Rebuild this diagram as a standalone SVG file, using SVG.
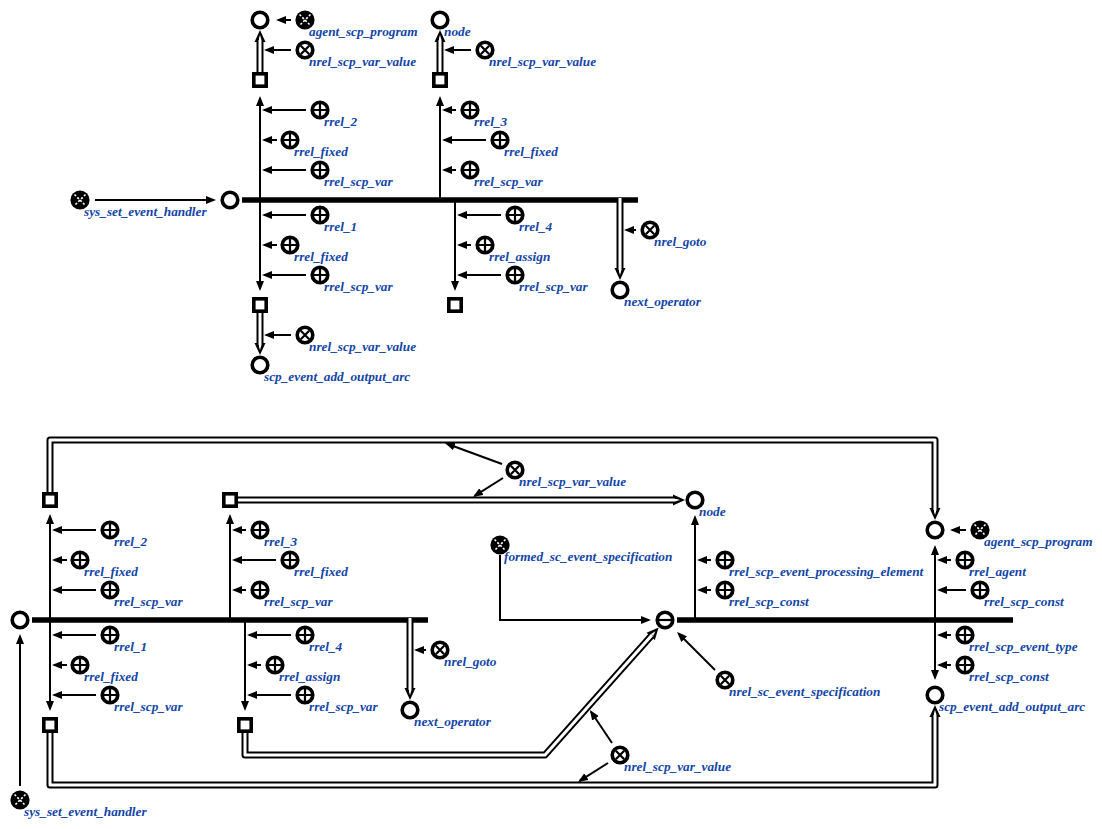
<svg xmlns="http://www.w3.org/2000/svg" xmlns:xlink="http://www.w3.org/1999/xlink" width="1102" height="829" viewBox="0 0 1102 829">
  <style>
    .lbl { font-family: "Liberation Serif", "Times New Roman", serif; font-size: 13.3px; font-weight: bold; font-style: italic; fill: #1346a8; }
    .arc { fill: none; stroke: #000; stroke-width: 2; marker-end: url(#ah); }
    .bus { fill: none; stroke: #000; stroke-width: 5.5; }
    .pair-out { fill: none; stroke: #000; stroke-width: 7; stroke-linejoin: round; marker-end: url(#dh); }
    .pair-in { fill: none; stroke: #fff; stroke-width: 3; stroke-linejoin: round; marker-end: url(#wh); }
    .ring { fill: #fff; stroke: #000; stroke-width: 3.6; }
    .mark { stroke: #000; stroke-width: 2.2; }
  </style>
  <defs>
    <marker id="ah" viewBox="0 -4 10 8" refX="8" refY="0" markerWidth="10" markerHeight="8" markerUnits="userSpaceOnUse" orient="auto">
      <path d="M0,-4 L10,0 L0,4 z" fill="#000"/>
    </marker>
    <marker id="dh" viewBox="0 -6 12 12" refX="2" refY="0" markerWidth="12" markerHeight="12" markerUnits="userSpaceOnUse" orient="auto">
      <path d="M0,-5.5 L12,0 L0,5.5 z" fill="#000"/>
    </marker>
    <marker id="wh" viewBox="0 -1.5 5 3" refX="0" refY="0" markerWidth="5" markerHeight="3" markerUnits="userSpaceOnUse" orient="auto">
      <path d="M0,-1.5 L5,0 L0,1.5 z" fill="#fff"/>
    </marker>
    <!-- plain constant node -->
    <g id="t-node"><circle r="7.8" class="ring"/></g>
    <!-- tuple / structure square -->
    <g id="t-tuple"><rect x="-6.2" y="-6.2" width="12.4" height="12.4" class="ring"/></g>
    <!-- non-role relation -->
    <g id="t-nrel"><circle r="7.8" class="ring"/><path d="M-4.2,-4.2 L4.2,4.2 M4.2,-4.2 L-4.2,4.2" class="mark"/></g>
    <!-- role relation -->
    <g id="t-rrel"><circle r="7.8" class="ring"/><path d="M-6.5,0 H6.5 M0,-6.5 V6.5" class="mark"/></g>
    <!-- class node -->
    <g id="t-class"><circle r="9.6" fill="#000"/><path d="M-5.5,-5.5 L5.5,5.5 M5.5,-5.5 L-5.5,5.5" stroke="#fff" stroke-width="1.6" stroke-dasharray="2.2 1.8"/></g>
    <!-- event specification node -->
    <g id="t-spec"><circle r="7.8" class="ring"/><path d="M-6.5,0 H6.5" class="mark"/></g>
  </defs>

  <!-- connectors -->
  <g id="connectors">
    <!-- upper program: buses -->
    <path class="bus" d="M242,200 H638"/>
    <!-- upper program: common arcs -->
    <path class="pair-out" d="M260,73 V40"/><path class="pair-in" d="M260,73 V40"/>
    <path class="pair-out" d="M440,73 V40"/><path class="pair-in" d="M440,73 V40"/>
    <path class="pair-out" d="M260,313 V345"/><path class="pair-in" d="M260,313 V345"/>
    <path class="pair-out" d="M620,198 V270"/><path class="pair-in" d="M620,198 V270"/>
    <!-- upper program: access arcs -->
    <path class="arc" d="M95,200 H214"/>
    <path class="arc" d="M260,200 V98"/>
    <path class="arc" d="M440,200 V98"/>
    <path class="arc" d="M260,200 V289"/>
    <path class="arc" d="M455,200 V289"/>
    <path class="arc" d="M291,20 H278"/>
    <path class="arc" d="M291,50 H266"/>
    <path class="arc" d="M471,50 H446"/>
    <path class="arc" d="M291,335 H266"/>
    <path class="arc" d="M306,110 H264"/>
    <path class="arc" d="M277,140 H264"/>
    <path class="arc" d="M306,170 H264"/>
    <path class="arc" d="M456,110 H444"/>
    <path class="arc" d="M486,140 H444"/>
    <path class="arc" d="M456,170 H444"/>
    <path class="arc" d="M306,215 H264"/>
    <path class="arc" d="M277,245 H264"/>
    <path class="arc" d="M306,275 H264"/>
    <path class="arc" d="M501,215 H459"/>
    <path class="arc" d="M471,245 H459"/>
    <path class="arc" d="M501,275 H459"/>
    <path class="arc" d="M636,230 H626"/>

    <!-- lower program: buses -->
    <path class="bus" d="M32,620 H428"/>
    <path class="bus" d="M677,620 H1013"/>
    <!-- lower program: common arcs -->
    <path class="pair-out" d="M50,492 V440 H935 V510"/><path class="pair-in" d="M50,492 V440 H935 V510"/>
    <path class="pair-out" d="M238,500 H675"/><path class="pair-in" d="M238,500 H675"/>
    <path class="pair-out" d="M50,733 V785 H935 V715"/><path class="pair-in" d="M50,733 V785 H935 V715"/>
    <path class="pair-out" d="M245,733 V755 H545 L652,635"/><path class="pair-in" d="M245,733 V755 H545 L652,635"/>
    <path class="pair-out" d="M410,618 V690"/><path class="pair-in" d="M410,618 V690"/>
    <!-- lower program: access arcs -->
    <path class="arc" d="M20,786 V636"/>
    <path class="arc" d="M50,620 V516"/>
    <path class="arc" d="M230,620 V516"/>
    <path class="arc" d="M50,620 V709"/>
    <path class="arc" d="M245,620 V709"/>
    <path class="arc" d="M96,530 H54"/>
    <path class="arc" d="M67,560 H54"/>
    <path class="arc" d="M96,590 H54"/>
    <path class="arc" d="M246,530 H234"/>
    <path class="arc" d="M276,560 H234"/>
    <path class="arc" d="M246,590 H234"/>
    <path class="arc" d="M96,635 H54"/>
    <path class="arc" d="M67,665 H54"/>
    <path class="arc" d="M96,695 H54"/>
    <path class="arc" d="M291,635 H249"/>
    <path class="arc" d="M261,665 H249"/>
    <path class="arc" d="M291,695 H249"/>
    <path class="arc" d="M426,650 H416"/>
    <path class="arc" d="M500,555 V620 H649"/>
    <path class="arc" d="M695,620 V517"/>
    <path class="arc" d="M711,560 H699"/>
    <path class="arc" d="M711,590 H699"/>
    <path class="arc" d="M935,620 V547"/>
    <path class="arc" d="M951,560 H939"/>
    <path class="arc" d="M966,590 H939"/>
    <path class="arc" d="M966,530 H952"/>
    <path class="arc" d="M935,620 V678"/>
    <path class="arc" d="M951,635 H939"/>
    <path class="arc" d="M951,665 H939"/>
    <path class="arc" d="M715,670 L678.5,633.5"/>
    <path class="arc" d="M612,743 L591,711.7"/>
    <path class="arc" d="M608,763 L579.7,780.9"/>
    <path class="arc" d="M502,464 L446.9,443.7"/>
    <path class="arc" d="M503,478 L474.7,495.9"/>
  </g>

  <!-- upper program nodes -->
  <g id="u-agent-class"><use xlink:href="#t-class" x="305" y="20"/><text class="lbl" x="309" y="36">agent_scp_program</text></g>
  <g id="u-agent-inst"><use xlink:href="#t-node" x="260" y="20"/></g>
  <g id="u-value-1"><use xlink:href="#t-nrel" x="305" y="50"/><text class="lbl" x="309" y="66">nrel_scp_var_value</text></g>
  <g id="u-param-1"><use xlink:href="#t-tuple" x="260" y="80"/></g>
  <g id="u-node"><use xlink:href="#t-node" x="440" y="20"/><text class="lbl" x="444" y="36">node</text></g>
  <g id="u-value-2"><use xlink:href="#t-nrel" x="485" y="50"/><text class="lbl" x="489" y="66">nrel_scp_var_value</text></g>
  <g id="u-param-3"><use xlink:href="#t-tuple" x="440" y="80"/></g>
  <g id="u-rrel2"><use xlink:href="#t-rrel" x="320" y="110"/><text class="lbl" x="324" y="126">rrel_2</text></g>
  <g id="u-fixed-1"><use xlink:href="#t-rrel" x="290" y="140"/><text class="lbl" x="294" y="156">rrel_fixed</text></g>
  <g id="u-var-1"><use xlink:href="#t-rrel" x="320" y="170"/><text class="lbl" x="324" y="186">rrel_scp_var</text></g>
  <g id="u-rrel3"><use xlink:href="#t-rrel" x="470" y="110"/><text class="lbl" x="474" y="126">rrel_3</text></g>
  <g id="u-fixed-2"><use xlink:href="#t-rrel" x="500" y="140"/><text class="lbl" x="504" y="156">rrel_fixed</text></g>
  <g id="u-var-2"><use xlink:href="#t-rrel" x="470" y="170"/><text class="lbl" x="474" y="186">rrel_scp_var</text></g>
  <g id="u-handler"><use xlink:href="#t-class" x="80" y="200"/><text class="lbl" x="84" y="216">sys_set_event_handler</text></g>
  <g id="u-operator"><use xlink:href="#t-node" x="230" y="200"/></g>
  <g id="u-rrel1"><use xlink:href="#t-rrel" x="320" y="215"/><text class="lbl" x="324" y="231">rrel_1</text></g>
  <g id="u-fixed-3"><use xlink:href="#t-rrel" x="290" y="245"/><text class="lbl" x="294" y="261">rrel_fixed</text></g>
  <g id="u-var-3"><use xlink:href="#t-rrel" x="320" y="275"/><text class="lbl" x="324" y="291">rrel_scp_var</text></g>
  <g id="u-rrel4"><use xlink:href="#t-rrel" x="515" y="215"/><text class="lbl" x="519" y="231">rrel_4</text></g>
  <g id="u-assign"><use xlink:href="#t-rrel" x="485" y="245"/><text class="lbl" x="489" y="261">rrel_assign</text></g>
  <g id="u-var-4"><use xlink:href="#t-rrel" x="515" y="275"/><text class="lbl" x="519" y="291">rrel_scp_var</text></g>
  <g id="u-goto"><use xlink:href="#t-nrel" x="650" y="230"/><text class="lbl" x="654" y="246">nrel_goto</text></g>
  <g id="u-next"><use xlink:href="#t-node" x="620" y="290"/><text class="lbl" x="624" y="306">next_operator</text></g>
  <g id="u-param-2"><use xlink:href="#t-tuple" x="260" y="305"/></g>
  <g id="u-param-4"><use xlink:href="#t-tuple" x="455" y="305"/></g>
  <g id="u-value-3"><use xlink:href="#t-nrel" x="305" y="335"/><text class="lbl" x="309" y="351">nrel_scp_var_value</text></g>
  <g id="u-event-type"><use xlink:href="#t-node" x="260" y="365"/><text class="lbl" x="264" y="381">scp_event_add_output_arc</text></g>

  <!-- lower program nodes -->
  <g id="l-value-1"><use xlink:href="#t-nrel" x="515" y="470"/><text class="lbl" x="519" y="486">nrel_scp_var_value</text></g>
  <g id="l-param-1"><use xlink:href="#t-tuple" x="50" y="500"/></g>
  <g id="l-param-3"><use xlink:href="#t-tuple" x="230" y="500"/></g>
  <g id="l-node"><use xlink:href="#t-node" x="695" y="500"/><text class="lbl" x="699" y="516">node</text></g>
  <g id="l-agent-inst"><use xlink:href="#t-node" x="935" y="530"/></g>
  <g id="l-agent-class"><use xlink:href="#t-class" x="980" y="530"/><text class="lbl" x="984" y="546">agent_scp_program</text></g>
  <g id="l-rrel2"><use xlink:href="#t-rrel" x="110" y="530"/><text class="lbl" x="114" y="546">rrel_2</text></g>
  <g id="l-fixed-1"><use xlink:href="#t-rrel" x="80" y="560"/><text class="lbl" x="84" y="576">rrel_fixed</text></g>
  <g id="l-var-1"><use xlink:href="#t-rrel" x="110" y="590"/><text class="lbl" x="114" y="606">rrel_scp_var</text></g>
  <g id="l-rrel3"><use xlink:href="#t-rrel" x="260" y="530"/><text class="lbl" x="264" y="546">rrel_3</text></g>
  <g id="l-fixed-2"><use xlink:href="#t-rrel" x="290" y="560"/><text class="lbl" x="294" y="576">rrel_fixed</text></g>
  <g id="l-var-2"><use xlink:href="#t-rrel" x="260" y="590"/><text class="lbl" x="264" y="606">rrel_scp_var</text></g>
  <g id="l-formed"><use xlink:href="#t-class" x="500" y="545"/><text class="lbl" x="504" y="561">formed_sc_event_specification</text></g>
  <g id="l-proc-el"><use xlink:href="#t-rrel" x="725" y="560"/><text class="lbl" x="729" y="576">rrel_scp_event_processing_element</text></g>
  <g id="l-const-1"><use xlink:href="#t-rrel" x="725" y="590"/><text class="lbl" x="729" y="606">rrel_scp_const</text></g>
  <g id="l-agent-role"><use xlink:href="#t-rrel" x="965" y="560"/><text class="lbl" x="969" y="576">rrel_agent</text></g>
  <g id="l-const-2"><use xlink:href="#t-rrel" x="980" y="590"/><text class="lbl" x="984" y="606">rrel_scp_const</text></g>
  <g id="l-operator"><use xlink:href="#t-node" x="20" y="620"/></g>
  <g id="l-spec"><use xlink:href="#t-spec" x="665" y="620"/></g>
  <g id="l-rrel1"><use xlink:href="#t-rrel" x="110" y="635"/><text class="lbl" x="114" y="651">rrel_1</text></g>
  <g id="l-fixed-3"><use xlink:href="#t-rrel" x="80" y="665"/><text class="lbl" x="84" y="681">rrel_fixed</text></g>
  <g id="l-var-3"><use xlink:href="#t-rrel" x="110" y="695"/><text class="lbl" x="114" y="711">rrel_scp_var</text></g>
  <g id="l-rrel4"><use xlink:href="#t-rrel" x="305" y="635"/><text class="lbl" x="309" y="651">rrel_4</text></g>
  <g id="l-assign"><use xlink:href="#t-rrel" x="275" y="665"/><text class="lbl" x="279" y="681">rrel_assign</text></g>
  <g id="l-var-4"><use xlink:href="#t-rrel" x="305" y="695"/><text class="lbl" x="309" y="711">rrel_scp_var</text></g>
  <g id="l-goto"><use xlink:href="#t-nrel" x="440" y="650"/><text class="lbl" x="444" y="666">nrel_goto</text></g>
  <g id="l-next"><use xlink:href="#t-node" x="410" y="710"/><text class="lbl" x="414" y="726">next_operator</text></g>
  <g id="l-event-role"><use xlink:href="#t-rrel" x="965" y="635"/><text class="lbl" x="969" y="651">rrel_scp_event_type</text></g>
  <g id="l-const-3"><use xlink:href="#t-rrel" x="965" y="665"/><text class="lbl" x="969" y="681">rrel_scp_const</text></g>
  <g id="l-spec-rel"><use xlink:href="#t-nrel" x="725" y="680"/><text class="lbl" x="729" y="696">nrel_sc_event_specification</text></g>
  <g id="l-event-type"><use xlink:href="#t-node" x="935" y="695"/><text class="lbl" x="939" y="711">scp_event_add_output_arc</text></g>
  <g id="l-param-2"><use xlink:href="#t-tuple" x="50" y="725"/></g>
  <g id="l-param-4"><use xlink:href="#t-tuple" x="245" y="725"/></g>
  <g id="l-value-2"><use xlink:href="#t-nrel" x="620" y="755"/><text class="lbl" x="624" y="771">nrel_scp_var_value</text></g>
  <g id="l-handler"><use xlink:href="#t-class" x="20" y="800"/><text class="lbl" x="24" y="816">sys_set_event_handler</text></g>
</svg>
